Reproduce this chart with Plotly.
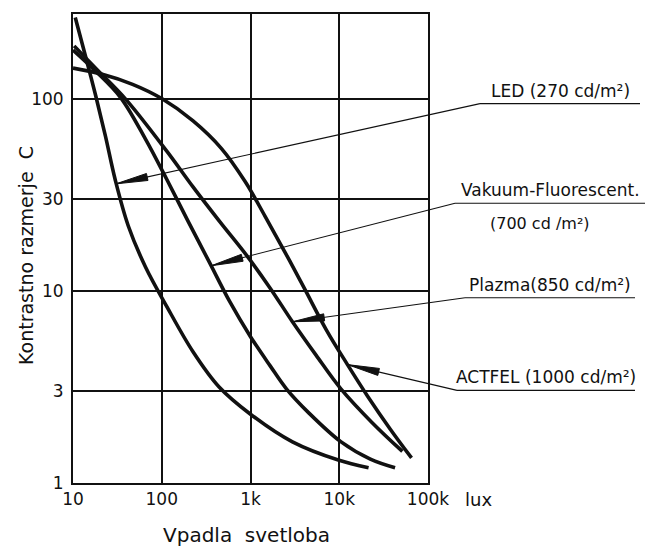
import math
import plotly.graph_objects as go

# Contrast ratio C versus incident illuminance (lux) for four display technologies
lux_led = [10.6, 14.0, 18.0, 23.2, 29.9, 41.9, 65.6, 114.5, 225, 443, 1000, 2970, 9750, 21400]
c_led = [264, 162.6, 103.7, 63.8, 37.8, 21.8, 13.3, 8.25, 4.82, 3.16, 2.28, 1.636, 1.316, 1.20]

lux_vfd = [10, 17.5, 34.4, 65.6, 114.5, 197, 338, 582, 1000, 1659, 2550, 4563, 10490, 22410, 42560]
c_vfd = [179, 140.6, 101.2, 61.5, 37.8, 23.1, 14.3, 8.8, 5.77, 4.08, 3.08, 2.31, 1.636, 1.331, 1.20]

lux_plasma = [10.3, 18.0, 39.6, 114.5, 225, 443.6, 922, 1659, 2969, 5449, 10490, 23500, 51440]
c_plasma = [188, 144, 98.8, 53.1, 34.7, 23.1, 15.1, 10.35, 6.90, 4.64, 3.08, 2.06, 1.46]

lux_actfel = [10, 21.35, 46.9, 100, 225.4, 468.5, 873.4, 1461, 2424, 4021, 7196, 12380, 20870, 37780, 65220]
c_actfel = [144, 133.8, 118.6, 100, 76.5, 55.1, 36.9, 24.4, 16.0, 10.35, 6.23, 4.13, 2.83, 1.90, 1.35]

x_ticks = [10, 100, 1000, 10000, 100000]
x_tick_text = ["10", "100", "1k", "10k", "100k"]
y_ticks = [1, 3, 10, 30, 100]
y_tick_text = ["1", "3", "10", "30", "100"]

labels = [
    ["LED (270 cd/m²)"],
    ["Vakuum-Fluorescent.", "(700 cd /m²)"],
    ["Plazma(850 cd/m²)"],
    ["ACTFEL (1000 cd/m²)"],
]
# points on each curve that the callout arrows touch
arrow_lux = [30.5, 361, 2969, 12380]
arrow_c = [36.0, 13.5, 6.90, 4.13]

# page geometry (pixels)
W, H = 661, 555
ML, MR, MT, MB = 73, 233, 12, 72
PW = W - ML - MR
PH = H - MT - MB
XR = [1, 5]
YR = [0, 2.44]

FONT = "DejaVu Sans"
INK = "#111"


def paper_x(p):
    return (p - ML) / PW


def paper_y(p):
    return (H - MB - p) / PH


def to_px(xv, yv):
    gx = ML + (math.log10(xv) - XR[0]) / (XR[1] - XR[0]) * PW
    gy = H - MB - (math.log10(yv) - YR[0]) / (YR[1] - YR[0]) * PH
    return gx, gy


fig = go.Figure()
for xs, ys in [(lux_led, c_led), (lux_vfd, c_vfd), (lux_plasma, c_plasma), (lux_actfel, c_actfel)]:
    fig.add_trace(go.Scatter(
        x=xs, y=ys, mode="lines",
        line=dict(color=INK, width=3.6, shape="spline", smoothing=1.0),
        hoverinfo="skip", showlegend=False,
    ))

# label layout: where each leader line meets its underline, underline end, underline y
leader = [
    dict(tail=(480, 102), uend=640, second_y=None),
    dict(tail=(455, 202), uend=645, second_y=222),
    dict(tail=(465, 297), uend=635, second_y=None),
    dict(tail=(457, 390), uend=635, second_y=None),
]

shapes = []
annotations = []
for text_lines, lx, cy, ld in zip(labels, arrow_lux, arrow_c, leader):
    tx, ty = to_px(lx, cy)
    ex, ey = ld["tail"]
    dx, dy = ex - tx, ey - ty
    n = math.hypot(dx, dy)
    ux, uy = dx / n, dy / n
    L, hw = 32, 3.6
    bx, by = tx + ux * L, ty + uy * L
    p1 = (bx - uy * hw, by + ux * hw)
    p2 = (bx + uy * hw, by - ux * hw)
    # slim arrowhead
    shapes.append(dict(
        type="path", xref="paper", yref="paper",
        path=(f"M {paper_x(tx):.5f},{paper_y(ty):.5f} "
              f"L {paper_x(p1[0]):.5f},{paper_y(p1[1]):.5f} "
              f"L {paper_x(p2[0]):.5f},{paper_y(p2[1]):.5f} Z"),
        fillcolor=INK, line=dict(color=INK, width=1),
    ))
    # leader line
    shapes.append(dict(
        type="line", xref="paper", yref="paper",
        x0=paper_x(tx), y0=paper_y(ty), x1=paper_x(ex), y1=paper_y(ey),
        line=dict(color=INK, width=1.1),
    ))
    # underline
    shapes.append(dict(
        type="line", xref="paper", yref="paper",
        x0=paper_x(ex), x1=paper_x(ld["uend"]), y0=paper_y(ey), y1=paper_y(ey),
        line=dict(color=INK, width=1.1),
    ))
    cx = (ex + ld["uend"]) / 2
    annotations.append(dict(
        x=paper_x(cx), y=paper_y(ey), xref="paper", yref="paper",
        text=text_lines[0], showarrow=False, xanchor="center", yanchor="bottom",
        yshift=1, font=dict(family=FONT, size=17, color=INK),
    ))
    if len(text_lines) > 1:
        annotations.append(dict(
            x=paper_x(cx - 10), y=paper_y(ld["second_y"]), xref="paper", yref="paper",
            text=text_lines[1], showarrow=False, xanchor="center", yanchor="middle",
            font=dict(family=FONT, size=16, color=INK),
        ))

# axis titles and unit
annotations.append(dict(
    x=paper_x(26), y=paper_y(255), xref="paper", yref="paper",
    text="Kontrastno razmerje\u00a0\u00a0C", textangle=-90, showarrow=False,
    xanchor="center", yanchor="middle", font=dict(family=FONT, size=19, color=INK),
))
annotations.append(dict(
    x=paper_x(246), y=paper_y(535), xref="paper", yref="paper",
    text="Vpadla\u00a0\u00a0svetloba", showarrow=False,
    xanchor="center", yanchor="middle", font=dict(family=FONT, size=20, color=INK),
))
annotations.append(dict(
    x=paper_x(478), y=paper_y(500), xref="paper", yref="paper",
    text="lux", showarrow=False,
    xanchor="center", yanchor="middle", font=dict(family=FONT, size=18, color=INK),
))

axis_common = dict(
    showgrid=True, gridcolor=INK, gridwidth=1.6,
    showline=True, linecolor=INK, linewidth=2, mirror=True,
    ticks="", zeroline=False,
    tickfont=dict(family=FONT, size=17, color=INK),
)

fig.update_layout(
    width=W, height=H,
    margin=dict(l=ML, r=MR, t=MT, b=MB),
    paper_bgcolor="white", plot_bgcolor="white",
    xaxis=dict(type="log", range=XR, tickvals=x_ticks, ticktext=x_tick_text, **axis_common),
    yaxis=dict(type="log", range=YR, tickvals=y_ticks, ticktext=y_tick_text,
               ticklabelstandoff=4, **axis_common),
    shapes=shapes,
    annotations=annotations,
)

fig.write_html("out.html")
